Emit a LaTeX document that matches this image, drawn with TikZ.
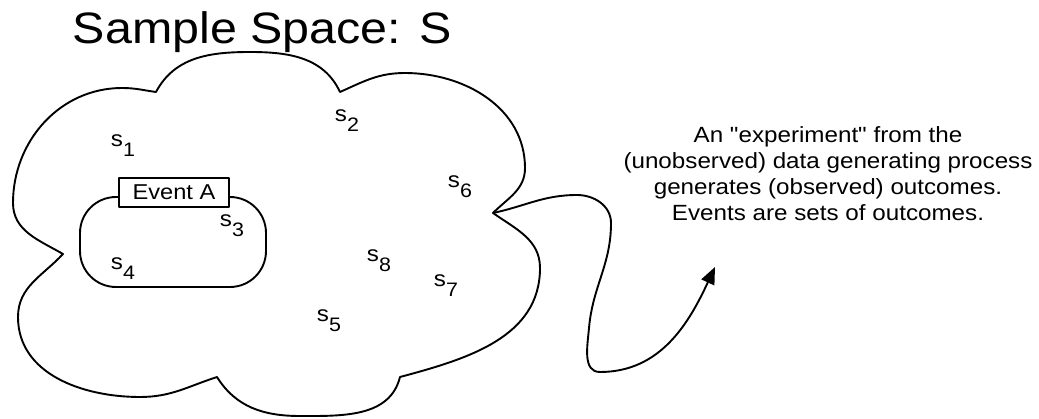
\documentclass[tikz,border=0pt]{standalone}
\usepackage{fontspec}
\setmainfont[FakeStretch=1.1]{Liberation Sans}
\newfontfamily\plainhv[FakeStretch=1.1]{Liberation Sans}
\usetikzlibrary{arrows.meta}
\newcommand\lsub[1]{\raisebox{-9.5pt}{\fontsize{19.5}{20}\selectfont #1}}
\begin{document}
\begin{tikzpicture}[x=1pt,y=1pt,line width=1.9pt,line join=round,
  lbl/.style={anchor=base west,inner sep=0pt,font=\fontsize{22}{26}\selectfont},
  evbox/.style={draw,fill=white,line width=1.5pt,minimum width=110pt,minimum height=29pt,inner sep=0pt,font=\fontsize{21.5}{24}\selectfont},
  evregion/.style={draw,rounded corners=36pt,minimum width=186pt,minimum height=90pt,inner sep=0pt},
  wave/.style={-{Triangle[length=17pt,width=14pt]}}]
\useasboundingbox (0,0) rectangle (1039,418);
% cloud cusps
\coordinate (c1) at (156,326);
\coordinate (c2) at (340,326);
\coordinate (c3) at (493,205);
\coordinate (c4) at (400,41);
\coordinate (c5) at (217,41);
\coordinate (c6) at (63,164);
\draw (c1) to[out=62,in=180] (250,366) to[out=0,in=115] (c2)
  to[out=24,in=180] (405,345) to[out=0,in=90] (525,250) to[out=-90,in=45] (c3)
  to[out=-35,in=90] (540,150) to[out=-90,in=15] (c4)
  to[out=-104,in=0] (300,2) to[out=180,in=-58] (c5)
  to[out=198,in=0] (140,21) to[out=180,in=-90] (18,101) to[out=90,in=227] (c6)
  to[out=150,in=-90] (13,215) to[out=90,in=180] (122,330) to[out=0,in=172] (c1) -- cycle;
% title
\node[anchor=base west,inner sep=0pt,font=\fontsize{44}{50}\selectfont] (title) at (72,374) {Sample Space: S};
% event A
\node[evregion] (evA) at (173,176) {};
\node[evbox] (evlab) at (174,225.5) {Event A};
% outcomes
\node[lbl] (s1) at (110,271) {s\lsub{1}};
\node[lbl] (s2) at (334,296) {s\lsub{2}};
\node[lbl] (s3) at (219,191) {s\lsub{3}};
\node[lbl] (s4) at (110,148) {s\lsub{4}};
\node[lbl] (s5) at (316,96) {s\lsub{5}};
\node[lbl] (s6) at (447,230) {s\lsub{6}};
\node[lbl] (s7) at (433,131) {s\lsub{7}};
\node[lbl] (s8) at (366,156) {s\lsub{8}};
% description
\node[align=center,anchor=north,inner sep=0pt,font=\plainhv\fontsize{22}{26}\selectfont] (desc) at (828,292)
  {An "experiment" from the\\(unobserved) data generating process\\generates (observed) outcomes.\\Events are sets of outcomes.};
% wavy arrow
\coordinate (tip) at (715,151);
\draw[wave] (c3) to[out=12,in=180] (577,223) to[out=0,in=90] (611,195)
  to[out=-90,in=85] (589,90) to[out=-95,in=180] (600,46) to[out=0,in=245] (tip);
\end{tikzpicture}
\end{document}
